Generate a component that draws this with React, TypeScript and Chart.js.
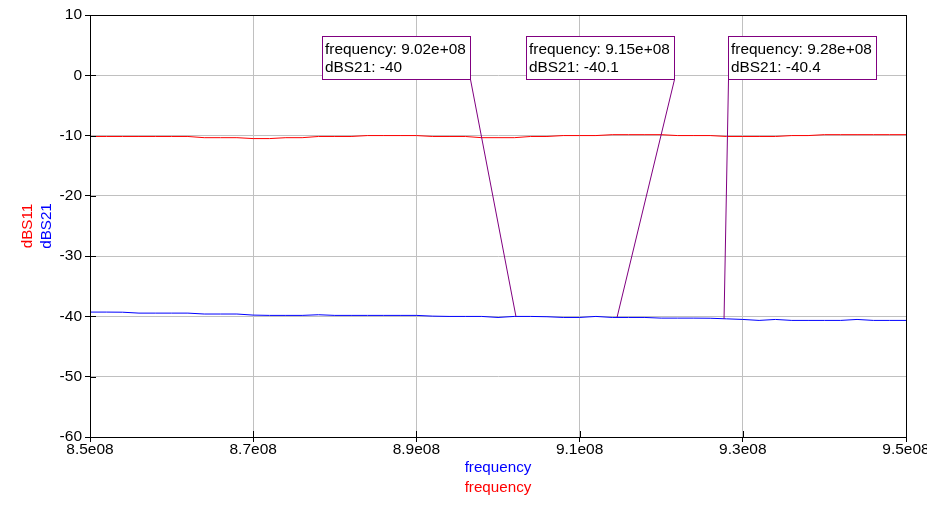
import React, { useEffect, useRef } from "react";
import { Chart, registerables } from "chart.js";

Chart.register(...registerables);

// Frequency in MHz
const FREQ_MHZ = [
  850, 852, 854, 856, 858, 860, 862, 864, 866, 868, 870, 872, 874, 876, 878, 880, 882, 884, 886, 888,
  890, 892, 894, 896, 898, 900, 902, 904, 906, 908, 910, 912, 914, 916, 918, 920, 922, 924, 926, 928,
  930, 932, 934, 936, 938, 940, 942, 944, 946, 948, 950,
];

const DBS11 = [
  -10.15, -10.15, -10.15, -10.15, -10.15, -10.15, -10.15, -10.35, -10.35, -10.35, -10.5, -10.5, -10.35,
  -10.35, -10.15, -10.15, -10.15, -10.0, -10.0, -10.0, -10.0, -10.15, -10.15, -10.15, -10.35, -10.35,
  -10.35, -10.15, -10.15, -10.0, -10.0, -10.0, -9.85, -9.85, -9.85, -9.85, -10.0, -10.0, -10.0, -10.15,
  -10.15, -10.15, -10.15, -10.0, -10.0, -9.85, -9.85, -9.85, -9.85, -9.85, -9.85,
];

const DBS21 = [
  -39.28, -39.28, -39.3, -39.45, -39.45, -39.45, -39.45, -39.6, -39.6, -39.6, -39.78, -39.83, -39.83,
  -39.83, -39.72, -39.83, -39.83, -39.83, -39.83, -39.83, -39.83, -39.95, -40.0, -40.0, -40.0, -40.17,
  -40.0, -40.0, -40.05, -40.17, -40.17, -40.0, -40.17, -40.17, -40.17, -40.28, -40.28, -40.28, -40.3,
  -40.4, -40.5, -40.66, -40.5, -40.66, -40.66, -40.66, -40.66, -40.5, -40.66, -40.66, -40.66,
];

// Markers on dBS21
const MARKER_FREQ_MHZ = [902.2, 914.6, 927.7];
const MARKER_DBS21 = [-40, -40.1, -40.4];

// Axis settings
const X_MIN_MHZ = 850;
const X_MAX_MHZ = 950;
const X_STEP_MHZ = 20;
const Y_MIN = -60;
const Y_MAX = 10;
const Y_STEP = 10;

// Marker box placement (styles, pixels relative to the marked point)
const BOX_DX = [-194, -91, 4];
const BOX_TOP_OFFSET = 21;

const FONT_FAMILY = '"Liberation Sans", Arial, sans-serif';
const PURPLE = "#800080";

function fmtTick(v: number): string {
  const m = Math.round(v / 1e7) / 10;
  return m.toFixed(1) + "e08";
}

function fmtExp(v: number): string {
  const exp = Math.floor(Math.log10(Math.abs(v)));
  const mant = v / Math.pow(10, exp);
  const e = String(Math.abs(exp)).padStart(2, "0");
  return mant.toFixed(2) + "e" + (exp >= 0 ? "+" : "-") + e;
}

function fmtVal(v: number): string {
  return String(Math.round(v * 10) / 10);
}

const framePlugin = {
  id: "frameAndTitles",
  afterDraw(chart: any) {
    const { ctx, chartArea, scales } = chart;
    const { left, right, top, bottom } = chartArea;
    ctx.save();
    ctx.strokeStyle = "#000";
    ctx.lineWidth = 1;
    ctx.strokeRect(Math.round(left) + 0.5, Math.round(top) + 0.5, Math.round(right - left), Math.round(bottom - top));
    ctx.beginPath();
    scales.y.ticks.forEach((t: any) => {
      const py = Math.round(scales.y.getPixelForValue(t.value)) + 0.5;
      ctx.moveTo(left, py);
      ctx.lineTo(left + 6, py);
    });
    scales.x.ticks.forEach((t: any) => {
      const px = Math.round(scales.x.getPixelForValue(t.value)) + 0.5;
      ctx.moveTo(px, bottom);
      ctx.lineTo(px, bottom - 6);
    });
    ctx.stroke();

    const cx = (left + right) / 2;
    const cy = (top + bottom) / 2;
    ctx.font = `15.2px ${FONT_FAMILY}`;
    ctx.textAlign = "center";
    ctx.textBaseline = "middle";
    ctx.fillStyle = "#0000ff";
    ctx.fillText("frequency", cx, 468);
    ctx.fillStyle = "#ff0000";
    ctx.fillText("frequency", cx, 487.5);

    ctx.save();
    ctx.translate(28, cy);
    ctx.rotate(-Math.PI / 2);
    ctx.fillStyle = "#ff0000";
    ctx.fillText("dBS11", 0, 0);
    ctx.restore();
    ctx.save();
    ctx.translate(46.5, cy);
    ctx.rotate(-Math.PI / 2);
    ctx.fillStyle = "#0000ff";
    ctx.fillText("dBS21", 0, 0);
    ctx.restore();

    ctx.font = `15.4px ${FONT_FAMILY}`;
    ctx.textAlign = "left";
    ctx.textBaseline = "middle";
    MARKER_FREQ_MHZ.forEach((f, i) => {
      const px = scales.x.getPixelForValue(f * 1e6);
      const py = scales.y.getPixelForValue(MARKER_DBS21[i]);
      const line1 = `frequency: ${fmtExp(f * 1e6)}`;
      const line2 = `dBS21: ${fmtVal(MARKER_DBS21[i])}`;
      const w = Math.round(Math.max(ctx.measureText(line1).width, ctx.measureText(line2).width) + 7);
      const h = 43;
      const bx = Math.round(px + BOX_DX[i]);
      const by = Math.round(top + BOX_TOP_OFFSET);
      const cornerX = Math.abs(px - (bx + w)) < Math.abs(px - bx) ? bx + w : bx;
      ctx.strokeStyle = PURPLE;
      ctx.lineWidth = 1;
      ctx.beginPath();
      ctx.moveTo(cornerX + 0.5, by + h + 0.5);
      ctx.lineTo(px, py);
      ctx.stroke();
      ctx.fillStyle = "#fff";
      ctx.fillRect(bx, by, w, h);
      ctx.strokeRect(bx + 0.5, by + 0.5, w, h);
      ctx.fillStyle = "#000";
      ctx.fillText(line1, bx + 3, by + 13.5);
      ctx.fillText(line2, bx + 3, by + 31.5);
    });
    ctx.restore();
  },
};

const bgPlugin = {
  id: "whiteBg",
  beforeDraw(chart: any) {
    const { ctx, width, height } = chart;
    ctx.save();
    ctx.fillStyle = "#fff";
    ctx.fillRect(0, 0, width, height);
    ctx.restore();
  },
};

export default function App() {
  const ref = useRef<HTMLCanvasElement | null>(null);

  useEffect(() => {
    if (!ref.current) return;
    const toXY = (vals: number[]) => FREQ_MHZ.map((f, i) => ({ x: f * 1e6, y: vals[i] }));
    const tickFont = { family: FONT_FAMILY, size: 15.5 };
    const chart = new Chart(ref.current, {
      type: "line",
      data: {
        datasets: [
          {
            label: "dBS21",
            data: toXY(DBS21),
            borderColor: "#0000ff",
            borderWidth: 1,
            pointRadius: 0,
            tension: 0,
            fill: false,
          },
          {
            label: "dBS11",
            data: toXY(DBS11),
            borderColor: "#ff0000",
            borderWidth: 1,
            pointRadius: 0,
            tension: 0,
            fill: false,
          },
        ],
      },
      options: {
        responsive: false,
        animation: false,
        devicePixelRatio: 1,
        layout: { padding: { top: 15, right: 21, left: 0, bottom: 0 } },
        plugins: { legend: { display: false }, tooltip: { enabled: false } },
        scales: {
          x: {
            type: "linear",
            min: X_MIN_MHZ * 1e6,
            max: X_MAX_MHZ * 1e6,
            ticks: {
              stepSize: X_STEP_MHZ * 1e6,
              color: "#000",
              font: tickFont,
              padding: -2,
              maxRotation: 0,
              autoSkip: false,
              callback: (v: any) => fmtTick(Number(v)),
            },
            grid: { color: "#c0c0c0", tickColor: "#000", tickLength: 5, lineWidth: 1 },
            border: { color: "#000", width: 1 },
            afterFit: (s: any) => {
              s.height = 90;
              s.paddingLeft = 0;
              s.paddingRight = 0;
            },
          },
          y: {
            type: "linear",
            min: Y_MIN,
            max: Y_MAX,
            ticks: {
              stepSize: Y_STEP,
              color: "#000",
              font: tickFont,
              padding: 3,
            },
            grid: { color: "#c0c0c0", tickColor: "#000", tickLength: 5, lineWidth: 1 },
            border: { color: "#000", width: 1 },
            afterFit: (s: any) => {
              s.width = 90;
              s.paddingTop = 0;
              s.paddingBottom = 0;
            },
          },
        },
      },
      plugins: [bgPlugin, framePlugin],
    } as any);
    return () => chart.destroy();
  }, []);

  return (
    <div style={{ position: "fixed", left: 0, top: 0, width: 927, height: 527, background: "#fff" }}>
      <canvas ref={ref} width={927} height={527} style={{ width: 927, height: 527, display: "block" }} />
    </div>
  );
}
